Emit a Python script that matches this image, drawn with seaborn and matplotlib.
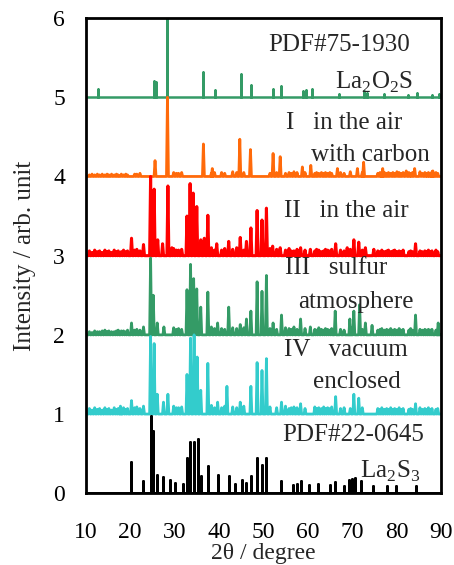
import numpy as np
import pandas as pd
import matplotlib
matplotlib.use("Agg")
import matplotlib.pyplot as plt
import seaborn as sns

# Reference stick patterns (2theta, relative intensity)
pdf75_pos = [12.8, 25.3, 25.9, 28.4, 36.5, 39.2, 44.9, 47.2, 52.2, 53.9, 59.0, 59.7, 61.0,
             67.0, 72.7, 73.3, 77.2, 82.5, 84.6, 88.1, 89.6]
pdf75_int = [0.11, 0.20, 0.19, 1.00, 0.32, 0.09, 0.30, 0.15, 0.11, 0.14, 0.08, 0.09, 0.11,
             0.04, 0.08, 0.05, 0.04, 0.03, 0.05, 0.03, 0.04]

pdf22_pos = [20.1, 23.0, 24.6, 25.2, 26.1, 27.3, 29.0, 30.1, 31.9, 32.8, 33.5, 34.4, 35.2,
             35.9, 37.5, 39.8, 42.2, 43.6, 45.3, 46.2, 47.3, 48.6, 49.8, 50.7, 53.9, 56.8,
             57.7, 58.4, 60.2, 62.4, 65.1, 66.2, 68.1, 69.4, 69.9, 70.7, 71.9, 74.7, 77.9,
             79.9, 84.5]
pdf22_int = [0.39, 0.16, 0.98, 0.79, 0.23, 0.20, 0.17, 0.13, 0.12, 0.45, 0.65, 0.65, 0.68,
             0.22, 0.35, 0.23, 0.22, 0.12, 0.17, 0.13, 0.22, 0.45, 0.36, 0.45, 0.15, 0.10,
             0.12, 0.15, 0.10, 0.12, 0.10, 0.14, 0.09, 0.17, 0.18, 0.19, 0.15, 0.09, 0.09,
             0.09, 0.09]

# Measured patterns: main peaks
s1_pos = [25.6, 28.4, 36.5, 38.5, 44.7, 47.1, 52.2, 53.8, 58.8, 60.7, 66.7, 71.2, 72.6,
          76.9, 82.2, 84.1, 88.2]
s1_int = [0.20, 1.00, 0.41, 0.10, 0.47, 0.34, 0.29, 0.25, 0.12, 0.14, 0.10, 0.10, 0.18,
          0.10, 0.07, 0.10, 0.07]

s2_pos = [20.3, 23.0, 24.6, 25.4, 26.2, 27.3, 28.5, 29.4, 32.8, 33.5, 34.2, 35.0, 35.9,
          36.7, 37.5, 39.5, 42.2, 44.8, 46.2, 47.2, 48.6, 49.7, 50.7, 52.1, 53.8, 58.4,
          60.6, 66.3, 68.9, 70.4, 71.5, 73.0, 74.9, 84.3]
s2_int = [0.22, 0.14, 1.00, 0.84, 0.20, 0.15, 0.88, 0.10, 0.50, 0.91, 0.79, 0.62, 0.20,
          0.22, 0.51, 0.15, 0.18, 0.23, 0.18, 0.35, 0.57, 0.45, 0.60, 0.12, 0.10, 0.10,
          0.08, 0.15, 0.10, 0.20, 0.17, 0.10, 0.08, 0.15]

s3_pos = [20.3, 23.0, 24.6, 25.2, 26.1, 27.6, 32.8, 33.6, 34.3, 35.0, 35.9, 37.5, 39.7,
          42.2, 44.8, 46.2, 47.2, 48.6, 49.7, 50.7, 52.2, 54.1, 58.4, 60.6, 66.2, 69.5,
          70.4, 71.7, 73.0, 74.5, 84.3, 89.4]
s3_int = [0.15, 0.10, 0.97, 0.50, 0.15, 0.10, 0.57, 0.89, 0.71, 0.58, 0.35, 0.54, 0.15,
          0.35, 0.13, 0.20, 0.30, 0.67, 0.55, 0.75, 0.15, 0.25, 0.20, 0.10, 0.30, 0.20,
          0.30, 0.38, 0.15, 0.12, 0.25, 0.15]

s4_pos = [17.8, 20.3, 23.0, 24.6, 25.4, 26.1, 27.5, 28.5, 32.8, 33.6, 34.4, 35.1, 35.9,
          37.5, 39.7, 41.8, 44.8, 47.2, 48.6, 49.7, 50.7, 54.1, 58.4, 66.3, 70.4, 71.5, 84.3]
s4_int = [0.10, 0.17, 0.10, 0.98, 0.89, 0.25, 0.15, 0.25, 0.50, 0.96, 1.00, 0.72, 0.30,
          0.64, 0.15, 0.35, 0.15, 0.35, 0.65, 0.55, 0.70, 0.15, 0.13, 0.22, 0.25, 0.20, 0.13]

# Background fuzz of the measured patterns
noise_pos = [10.8, 11.4, 12.0, 12.6, 13.1, 13.7, 14.3, 14.8, 15.2, 15.8, 16.4, 16.9, 17.3,
             18.0, 18.5, 19.0, 19.4, 21.0, 21.5, 22.2, 29.8, 30.4, 30.9, 31.6, 38.3, 39.0,
             40.6, 41.3, 43.1, 44.0, 45.6, 51.5, 53.0, 55.0, 55.8, 56.3, 56.9, 57.6, 59.4,
             61.6, 62.0, 62.5, 63.1, 63.6, 64.0, 64.5, 65.0, 65.4, 67.4, 68.2, 69.6, 72.3,
             75.8, 76.3, 76.7, 77.3, 77.8, 78.2, 78.7, 79.2, 79.6, 80.1, 80.6, 81.0, 81.5,
             82.8, 83.2, 83.6, 85.3, 85.8, 86.4, 86.8, 87.2, 87.6, 88.0, 88.9, 89.3]
n1_int = [0.02, 0.03, 0.02, 0.03, 0.02, 0.03, 0.02, 0.03, 0.02, 0.03, 0.02, 0.03, 0.02,
          0.03, 0.02, 0.03, 0.02, 0.03, 0.03, 0.04, 0.05, 0.04, 0.04, 0.05, 0.04, 0.05,
          0.05, 0.04, 0.06, 0.05, 0.05, 0.04, 0.05, 0.04, 0.05, 0.04, 0.06, 0.05, 0.05,
          0.04, 0.05, 0.04, 0.05, 0.04, 0.05, 0.04, 0.05, 0.04, 0.05, 0.04, 0.06, 0.05,
          0.04, 0.05, 0.04, 0.05, 0.04, 0.05, 0.04, 0.05, 0.04, 0.06, 0.05, 0.04, 0.05,
          0.05, 0.04, 0.05, 0.06, 0.04, 0.05, 0.04, 0.05, 0.04, 0.06, 0.05, 0.04]
n2_int = [0.06, 0.04, 0.07, 0.05, 0.06, 0.04, 0.07, 0.05, 0.06, 0.04, 0.07, 0.05, 0.06,
          0.05, 0.07, 0.05, 0.06, 0.07, 0.08, 0.06, 0.09, 0.07, 0.07, 0.08, 0.10, 0.07,
          0.07, 0.09, 0.08, 0.10, 0.07, 0.09, 0.08, 0.07, 0.09, 0.06, 0.06, 0.08, 0.07,
          0.06, 0.08, 0.07, 0.05, 0.06, 0.08, 0.07, 0.06, 0.08, 0.07, 0.06, 0.08, 0.07,
          0.06, 0.05, 0.07, 0.05, 0.06, 0.07, 0.05, 0.06, 0.07, 0.05, 0.06, 0.05, 0.07,
          0.05, 0.06, 0.05, 0.06, 0.05, 0.06, 0.05, 0.07, 0.05, 0.06, 0.07, 0.05]
n3_int = [0.04, 0.03, 0.05, 0.04, 0.04, 0.05, 0.06, 0.04, 0.05, 0.04, 0.04, 0.05, 0.06,
          0.05, 0.05, 0.04, 0.06, 0.06, 0.07, 0.06, 0.09, 0.07, 0.08, 0.07, 0.10, 0.08,
          0.08, 0.07, 0.09, 0.08, 0.09, 0.08, 0.07, 0.09, 0.08, 0.07, 0.10, 0.07, 0.08,
          0.07, 0.06, 0.09, 0.07, 0.06, 0.08, 0.07, 0.06, 0.08, 0.07, 0.06, 0.09, 0.07,
          0.06, 0.07, 0.08, 0.06, 0.07, 0.06, 0.08, 0.06, 0.07, 0.06, 0.08, 0.06, 0.07,
          0.06, 0.08, 0.06, 0.07, 0.06, 0.07, 0.06, 0.07, 0.06, 0.07, 0.06, 0.05]
n4_int = [0.07, 0.05, 0.08, 0.06, 0.07, 0.05, 0.08, 0.06, 0.07, 0.05, 0.08, 0.06, 0.07,
          0.06, 0.08, 0.06, 0.07, 0.08, 0.09, 0.07, 0.10, 0.08, 0.08, 0.09, 0.11, 0.08,
          0.08, 0.10, 0.09, 0.08, 0.10, 0.09, 0.08, 0.10, 0.07, 0.08, 0.09, 0.08, 0.07,
          0.09, 0.07, 0.08, 0.07, 0.09, 0.07, 0.08, 0.07, 0.09, 0.07, 0.08, 0.07, 0.08,
          0.07, 0.06, 0.08, 0.06, 0.07, 0.06, 0.08, 0.06, 0.07, 0.06, 0.08, 0.06, 0.07,
          0.06, 0.07, 0.06, 0.08, 0.06, 0.07, 0.06, 0.08, 0.06, 0.07, 0.06, 0.07]

offsets = [5, 4, 3, 2, 1, 0]
colors = ["#349b66", "#ff6a0a", "#ff0000", "#349b66", "#33cccc", "#000000"]


def profile(pos, hts, base, w):
    # baseline -> peak -> baseline for every reflection
    xs, ys = [10], [base]
    for p, h in sorted(zip(pos, hts)):
        xs += [p - w, p, p + w]
        ys += [base, base + h, base]
    xs.append(90)
    ys.append(base)
    return pd.DataFrame({"x": xs, "y": ys})


sns.set_theme(style="white")
plt.rcParams["font.family"] = ["Liberation Serif", "DejaVu Serif"]
plt.rcParams["mathtext.fontset"] = "custom"
plt.rcParams["mathtext.rm"] = "Liberation Serif"

fig = plt.figure(figsize=(4.54, 5.65), dpi=100)
ax = fig.add_axes([0.189, 0.127, 0.782, 0.841])

series = [
    (pdf75_pos, pdf75_int, 0.0, 1.8),
    (s1_pos + noise_pos, s1_int + n1_int, 0.22, 2.0),
    (s2_pos + noise_pos, s2_int + n2_int, 0.22, 2.2),
    (s3_pos + noise_pos, s3_int + n3_int, 0.22, 2.0),
    (s4_pos + noise_pos, s4_int + n4_int, 0.22, 2.0),
    (pdf22_pos, pdf22_int, 0.0, 2.0),
]
for (pos, hts, w, lw), off, col in zip(series, offsets, colors):
    df = profile(pos, hts, off, w)
    sns.lineplot(data=df, x="x", y="y", estimator=None, sort=False,
                 color=col, lw=lw, ax=ax)

ax.set_xlim(10, 90)
ax.set_ylim(0, 6)
ax.set_xticks(range(10, 91, 10))
ax.set_yticks(range(0, 7))
ax.tick_params(length=0, labelsize=17, colors="black")
ax.tick_params(axis="x", pad=21)
ax.tick_params(axis="y", pad=15)
for s in ax.spines.values():
    s.set_color("black")
    s.set_linewidth(2)
ax.set_xlabel("2θ / degree", fontsize=17, labelpad=0)
ax.set_ylabel("Intensity / arb. unit", fontsize=18, labelpad=12)

fs = 18
ax.text(67.1, 5.66, "PDF#75-1930", fontsize=fs, ha="center", va="center")
ax.text(75.0, 5.19, r"La$_\mathregular{2}$O$_\mathregular{2}$S", fontsize=fs, ha="center", va="center")
ax.text(68.2, 4.67, "I   in the air", fontsize=fs, ha="center", va="center")
ax.text(74.2, 4.27, "with carbon", fontsize=fs, ha="center", va="center")
ax.text(68.8, 3.57, "II   in the air", fontsize=fs, ha="center", va="center")
ax.text(66.5, 2.84, "III   sulfur", fontsize=fs, ha="center", va="center")
ax.text(70.9, 2.41, "atmosphere", fontsize=fs, ha="center", va="center")
ax.text(68.5, 1.81, "IV   vacuum", fontsize=fs, ha="center", va="center")
ax.text(71.0, 1.40, "enclosed", fontsize=fs, ha="center", va="center")
ax.text(70.2, 0.73, "PDF#22-0645", fontsize=fs, ha="center", va="center")
ax.text(78.6, 0.27, r"La$_\mathregular{2}$S$_\mathregular{3}$", fontsize=fs, ha="center", va="center")

fig.savefig("out.png", dpi=100)
